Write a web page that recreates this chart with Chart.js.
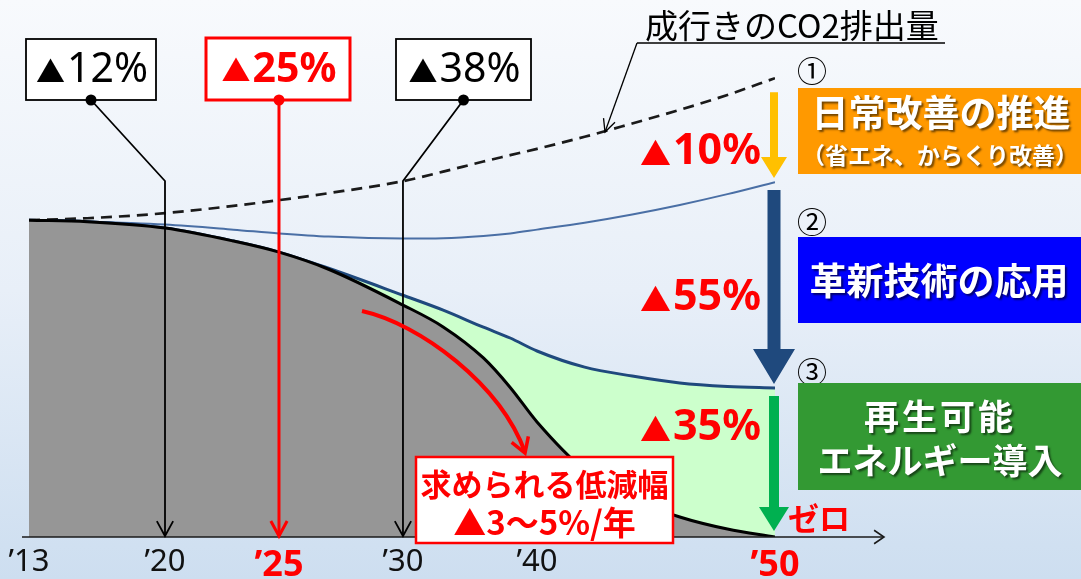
<!DOCTYPE html>
<html lang="ja">
<head>
<meta charset="utf-8">
<title>CO2排出量 削減シナリオ</title>
<script src="https://cdn.jsdelivr.net/npm/chart.js@4.4.1/dist/chart.umd.min.js"></script>
<style>
  html, body { margin: 0; padding: 0; background: #fff; }
  #wrap { position: relative; width: 1081px; height: 579px; }
</style>
</head>
<body>
<div id="wrap"><canvas id="c"></canvas></div>
<script>
// Years sampled along the timeline (shared x values of every series)
const YEARS = [2013, 2016, 2020, 2023, 2025, 2027, 2030, 2033, 2036, 2038, 2040, 2042, 2044, 2046, 2048, 2050];
// CO2 emission index (2013 = 100)
const BAU_EMISSIONS    = [100, 100.6, 102.2, 104.5, 106.3, 108.5, 112.3, 115.3, 118.5, 120.5, 122.5, 126.3, 130.5, 134.8, 139.5, 144.8];
const AFTER_KAIZEN     = [100, 99.6, 98.6, 97.0, 95.8, 94.8, 94.2, 94.3, 95.0, 95.8, 97.0, 99.2, 101.8, 104.8, 108.2, 112.0];
const AFTER_INNOVATION = [100, 99.5, 97.5, 93.4, 89.9, 84.8, 76.3, 71.6, 66.2, 62.8, 58.7, 53.6, 50.8, 48.6, 47.5, 47.0];
const TARGET_PATH      = [100, 99.5, 97.5, 93.4, 89.9, 84.5, 73.2, 66.3, 56.5, 47.2, 36.3, 21.1, 12.0, 6.3, 2.5, 0];

// Axis ticks
const TICK_YEARS    = [2013, 2020, 2025, 2030, 2040, 2050];
const TICK_LABELS   = ['’13', '’20', '’25', '’30', '’40', '’50'];
const TICK_EMPHASIS = [false, false, true, false, false, true];

// Milestone call-outs
const MILESTONE_YEARS  = [2020, 2025, 2030];
const MILESTONE_LABELS = ['▲12%', '▲25%', '▲38%'];

// Reduction steps toward 2050
const STEP_MARKS  = ['①', '②', '③'];
const STEP_LABELS = ['▲10%', '▲55%', '▲35%'];
const STEP_TITLES = [['日常改善の推進', '（省エネ、からくり改善）'], ['革新技術の応用'], ['再生可能', 'エネルギー導入']];

// ---- layout / style -------------------------------------------------------
const JP = '"Noto Sans CJK JP", "Noto Sans", sans-serif';
const LATIN = '"Noto Sans", "DejaVu Sans", sans-serif';

// The timeline is schematic: each span between key years gets its own share of the width
const TIMELINE_KNOTS = [2013, 2020, 2025, 2030, 2040, 2050];
const TIMELINE_STOPS = [0, 0.1823, 0.3351, 0.5013, 0.681, 1];

class TimelineScale extends Chart.LinearScale {
  getPixelForValue(value) {
    if (value === null || value === undefined || isNaN(value)) return NaN;
    const k = TIMELINE_KNOTS, s = TIMELINE_STOPS;
    let i = 0;
    while (i < k.length - 2 && value > k[i + 1]) i++;
    const t = (value - k[i]) / (k[i + 1] - k[i]);
    return this.getPixelForDecimal(s[i] + t * (s[i + 1] - s[i]));
  }
  getValueForPixel(pixel) {
    const d = this.getDecimalForPixel(pixel);
    const k = TIMELINE_KNOTS, s = TIMELINE_STOPS;
    let i = 0;
    while (i < s.length - 2 && d > s[i + 1]) i++;
    const t = (d - s[i]) / (s[i + 1] - s[i]);
    return k[i] + t * (k[i + 1] - k[i]);
  }
}
TimelineScale.id = 'timeline';
TimelineScale.defaults = Chart.LinearScale.defaults;
Chart.register(TimelineScale);

const CALLOUT_BOXES = [
  { x: 26,  y: 39, w: 130, h: 61 },
  { x: 206, y: 38, w: 144, h: 62 },
  { x: 396, y: 39, w: 135, h: 61 }
];
const CALLOUT_BEND_Y = 181;
const PANEL_X = 798;
const PANEL_BOXES = [
  { y: 88,  h: 86,  color: '#ff9900' },
  { y: 237, h: 86,  color: '#0000ff' },
  { y: 383, h: 107, color: '#339933' }
];
const MARK_Y = [71, 222, 372];
const STEP_LABEL_Y = [152, 298, 428];
const STEP_ARROWS = [
  { color: '#ffc000', shaft: 8,  head: 26, headLen: 21 },
  { color: '#1f497d', shaft: 13, head: 42, headLen: 35 },
  { color: '#00b050', shaft: 10, head: 30, headLen: 24 }
];

function line(ctx, x1, y1, x2, y2) {
  ctx.beginPath(); ctx.moveTo(x1, y1); ctx.lineTo(x2, y2); ctx.stroke();
}
function chevron(ctx, x, y, angle, len, spread) {
  ctx.beginPath();
  ctx.moveTo(x - len * Math.cos(angle - spread), y - len * Math.sin(angle - spread));
  ctx.lineTo(x, y);
  ctx.lineTo(x - len * Math.cos(angle + spread), y - len * Math.sin(angle + spread));
  ctx.stroke();
}
function blockArrowDown(ctx, x, yTop, yTip, a) {
  const hs = a.shaft / 2, hh = a.head / 2, yh = yTip - a.headLen;
  ctx.fillStyle = a.color;
  ctx.beginPath();
  ctx.moveTo(x - hs, yTop);
  ctx.lineTo(x + hs, yTop);
  ctx.lineTo(x + hs, yh);
  ctx.lineTo(x + hh, yh);
  ctx.lineTo(x, yTip);
  ctx.lineTo(x - hh, yh);
  ctx.lineTo(x - hs, yh);
  ctx.closePath();
  ctx.fill();
}
// "▲nn%" label: a smaller triangle followed by the figure
function deltaText(ctx, text, x, y, align, triPx, numFont) {
  const tri = text.charAt(0), rest = text.slice(1);
  ctx.textBaseline = 'middle';
  ctx.textAlign = 'left';
  ctx.font = triPx + 'px ' + JP;
  const wt = ctx.measureText(tri).width;
  ctx.font = numFont;
  const wn = ctx.measureText(rest).width;
  const gap = 2;
  const total = wt + gap + wn;
  let left = x;
  if (align === 'center') left = x - total / 2;
  else if (align === 'right') left = x - total;
  ctx.font = triPx + 'px ' + JP;
  ctx.fillText(tri, left, y + 1);
  ctx.font = numFont;
  ctx.fillText(rest, left + wt + gap, y);
}
function lastOf(arr) { return arr[arr.length - 1]; }

const decorations = {
  id: 'decorations',
  beforeDraw(chart) {
    const { ctx, width, height } = chart;
    const g = ctx.createLinearGradient(0, 0, 0, height);
    g.addColorStop(0, '#f8fafd');
    g.addColorStop(0.5, '#e8eff8');
    g.addColorStop(1, '#cddef0');
    ctx.save();
    ctx.fillStyle = g;
    ctx.fillRect(0, 0, width, height);
    ctx.restore();
  },
  afterDatasetsDraw(chart) {
    const { ctx } = chart;
    const xs = chart.scales.x, ys = chart.scales.y;
    const y0 = ys.getPixelForValue(0);
    const x50 = xs.getPixelForValue(2050);
    ctx.save();
    ctx.lineCap = 'butt';
    ctx.lineJoin = 'miter';

    // baseline with arrow head
    ctx.strokeStyle = '#1a1a1a';
    ctx.lineWidth = 1.6;
    line(ctx, 22, y0, 884, y0);
    chevron(ctx, 884, y0, 0, 12, 0.6);

    // milestone call-outs with leaders pointing at the timeline
    MILESTONE_YEARS.forEach((yr, i) => {
      const b = CALLOUT_BOXES[i];
      const emph = i === 1;
      const col = emph ? '#ff0000' : '#000000';
      const xt = xs.getPixelForValue(yr);
      let cx = b.x + b.w / 2;
      if (Math.abs(cx - xt) < 3) cx = xt;
      const by = b.y + b.h;
      ctx.strokeStyle = col;
      ctx.fillStyle = col;
      ctx.lineWidth = emph ? 3 : 1.8;
      ctx.beginPath();
      ctx.moveTo(cx, by);
      if (cx !== xt) ctx.lineTo(xt, CALLOUT_BEND_Y);
      ctx.lineTo(xt, y0 - 1);
      ctx.stroke();
      chevron(ctx, xt, y0 - 1, Math.PI / 2, 17, 0.5);

      ctx.fillStyle = '#ffffff';
      ctx.fillRect(b.x, b.y, b.w, b.h);
      ctx.lineWidth = emph ? 3 : 1.8;
      ctx.strokeRect(b.x, b.y, b.w, b.h);
      ctx.fillStyle = col;
      deltaText(ctx, MILESTONE_LABELS[i], b.x + b.w / 2 + 1, b.y + b.h / 2 + 1, 'center', 29,
        (emph ? 'bold 41px ' : '41px ') + LATIN);
      ctx.beginPath();
      ctx.arc(cx, by, 5.5, 0, Math.PI * 2);
      ctx.fill();
    });

    // required reduction pace: curved arrow + note
    ctx.strokeStyle = '#ff0000';
    ctx.lineWidth = 4;
    ctx.beginPath();
    ctx.moveTo(362, 311);
    ctx.bezierCurveTo(420, 324, 500, 384, 525, 452);
    ctx.stroke();
    ctx.lineWidth = 3.5;
    chevron(ctx, 525, 453, Math.atan2(68, 25), 17, 0.55);

    ctx.fillStyle = '#ffffff';
    ctx.fillRect(416, 457, 257, 86);
    ctx.strokeStyle = '#ff0000';
    ctx.lineWidth = 2.5;
    ctx.strokeRect(416, 457, 257, 86);
    ctx.fillStyle = '#ff0000';
    ctx.font = 'bold 31px ' + JP;
    ctx.textAlign = 'center';
    ctx.textBaseline = 'middle';
    ctx.fillText('求められる低減幅', 544.5, 484);
    ctx.font = 'bold 33px ' + JP;
    ctx.fillText('▲3～5%/年', 544.5, 522);

    // reduction steps at 2050
    const ends = [lastOf(BAU_EMISSIONS), lastOf(AFTER_KAIZEN), lastOf(AFTER_INNOVATION), 0];
    for (let i = 0; i < 3; i++) {
      const yA = ys.getPixelForValue(ends[i]);
      const yB = ys.getPixelForValue(ends[i + 1]);
      blockArrowDown(ctx, x50 - 1, yA + (i === 0 ? 14 : 8), yB - (i === 2 ? 6 : 4), STEP_ARROWS[i]);

      ctx.fillStyle = '#ff0000';
      deltaText(ctx, STEP_LABELS[i], 761, STEP_LABEL_Y[i], 'right', 31, 'bold 43px ' + LATIN);

      ctx.fillStyle = '#000';
      ctx.font = '30px ' + JP;
      ctx.textAlign = 'center';
      ctx.textBaseline = 'middle';
      ctx.fillText(STEP_MARKS[i], 812, MARK_Y[i]);

      const p = PANEL_BOXES[i];
      ctx.fillStyle = p.color;
      ctx.fillRect(PANEL_X, p.y, chart.width - PANEL_X, p.h);
    }

    // panel titles (white with a soft drop shadow)
    ctx.save();
    ctx.shadowColor = 'rgba(0,0,0,0.55)';
    ctx.shadowOffsetX = 2;
    ctx.shadowOffsetY = 2;
    ctx.shadowBlur = 2;
    ctx.fillStyle = '#ffffff';
    ctx.textAlign = 'center';
    ctx.textBaseline = 'middle';
    ctx.font = 'bold 37px ' + JP;
    ctx.fillText(STEP_TITLES[0][0], 941, 113);
    ctx.font = 'bold 23px ' + JP;
    ctx.fillText(STEP_TITLES[0][1], 940, 155);
    ctx.font = 'bold 37px ' + JP;
    ctx.fillText(STEP_TITLES[1][0], 939, 281);
    ctx.font = 'bold 35px ' + JP;
    ctx.letterSpacing = '3px';
    ctx.fillText(STEP_TITLES[2][0], 940, 417);
    ctx.letterSpacing = '0px';
    ctx.fillText(STEP_TITLES[2][1], 940, 461);
    ctx.restore();

    // "ゼロ" at the end of the path
    ctx.fillStyle = '#ff0000';
    ctx.font = 'bold 31px ' + JP;
    ctx.textAlign = 'left';
    ctx.textBaseline = 'middle';
    ctx.fillText('ゼロ', 788, 518);

    // business-as-usual caption with leader
    ctx.fillStyle = '#000';
    ctx.font = '33px ' + JP;
    ctx.textAlign = 'left';
    ctx.fillText('成行きのCO2排出量', 645, 25);
    ctx.strokeStyle = '#000';
    ctx.lineWidth = 1.6;
    line(ctx, 637, 43, 945, 43);
    ctx.lineWidth = 1.3;
    line(ctx, 637, 43, 605, 132);
    chevron(ctx, 605, 132, Math.atan2(89, -32), 14, 0.45);

    ctx.restore();
  }
};

const toPoints = arr => YEARS.map((x, i) => ({ x, y: arr[i] }));

new Chart(document.getElementById('c'), {
  type: 'line',
  data: {
    datasets: [
      { label: '削減経路', data: toPoints(TARGET_PATH), borderColor: '#000000', borderWidth: 3,
        backgroundColor: '#969696', fill: 'origin', order: 0 },
      { label: '革新技術の応用後', data: toPoints(AFTER_INNOVATION), borderColor: '#1f497d', borderWidth: 3,
        backgroundColor: '#ccffcc', fill: 0, order: 1 },
      { label: '日常改善後', data: toPoints(AFTER_KAIZEN), borderColor: '#4a6fa5', borderWidth: 2,
        fill: false, order: 2 },
      { label: '成行き', data: toPoints(BAU_EMISSIONS), borderColor: '#1a1a1a', borderWidth: 2.7,
        borderDash: [11, 7], fill: false, order: 3 }
    ]
  },
  options: {
    responsive: true,
    maintainAspectRatio: false,
    animation: false,
    events: [],
    elements: {
      point: { radius: 0 },
      line: { cubicInterpolationMode: 'monotone', capBezierPoints: true }
    },
    layout: { autoPadding: false, padding: { left: 29, right: 306, top: 30, bottom: 0 } },
    plugins: { legend: { display: false }, tooltip: { enabled: false } },
    scales: {
      x: {
        type: 'timeline',
        min: 2013,
        max: 2050,
        grid: { display: false, drawTicks: false },
        border: { display: false },
        afterBuildTicks: s => { s.ticks = TICK_YEARS.map(v => ({ value: v })); },
        afterFit: s => { s.height = 42; },
        ticks: {
          autoSkip: false,
          maxRotation: 0,
          minRotation: 0,
          padding: 7,
          callback: (v, i) => TICK_LABELS[i],
          color: c => TICK_EMPHASIS[c.index] ? '#ff0000' : '#111111',
          font: c => TICK_EMPHASIS[c.index]
            ? { family: LATIN, size: 36, weight: 'bold' }
            : { family: LATIN, size: 31, weight: 'normal' }
        }
      },
      y: { display: false, min: 0, max: 160 }
    }
  },
  plugins: [decorations]
});
</script>
</body>
</html>
